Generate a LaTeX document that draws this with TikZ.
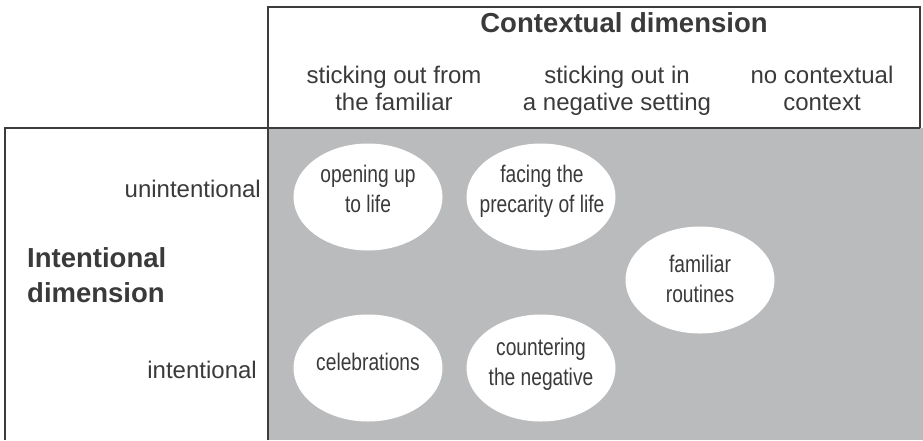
\documentclass[tikz,border=0pt]{standalone}
\usepackage{fontspec}
\setmainfont{Liberation Sans}
\newfontfamily\narrowfont{Liberation Sans}[FakeStretch=0.8]
\usetikzlibrary{shapes.geometric}
\definecolor{ink}{HTML}{3A3A3A}
\definecolor{rule}{HTML}{3C3C3C}
\definecolor{panel}{HTML}{BABBBD}
\tikzset{
  frame/.style={draw=rule, line width=1.6pt},
  head/.style={text=ink, align=center, font=\fontsize{24}{27}\selectfont, inner sep=0pt},
  title/.style={text=ink, font=\bfseries\fontsize{27.5}{35}\selectfont, inner sep=0pt},
  rowlab/.style={text=ink, font=\fontsize{24}{27}\selectfont, inner sep=0pt, anchor=base east},
  blob/.style={ellipse, fill=white, draw=none, minimum width=149pt, minimum height=107pt,
    inner sep=0pt},
  blobtext/.style={text=ink, align=center, anchor=base, inner sep=0pt,
    font=\narrowfont\fontsize{24}{29.5}\selectfont},
}
\begin{document}
\begin{tikzpicture}[x=1pt, y=-1pt]
\useasboundingbox (0,0) rectangle (923,440);
% grey field of the matrix
\fill[panel] (268,128) rectangle (923,440);
% frames
\draw[frame] (268,440) -- (268,7) -- (920,7) -- (920,128);
\draw[frame] (5,440) -- (5,128) -- (920,128);
% column header (base anchor sits on the last line)
\node[title, anchor=base] (ctx) at (624,32) {Contextual dimension};
\node[head, anchor=base] (c1) at (394,110) {sticking out from\\the familiar};
\node[head, anchor=base] (c2) at (617,110) {sticking out in\\a negative setting};
\node[head, anchor=base] (c3) at (822,110) {no contextual\\context};
% row header
\node[rowlab] (r1) at (261,197) {unintentional};
\node[rowlab] (r2) at (257,378) {intentional};
\node[title, anchor=base west, align=left] (intd) at (27,302) {Intentional\\dimension};
% categories: white ellipses
\node[blob] (open) at (368,197) {};
\node[blob] (face) at (541,197) {};
\node[blob] (rout) at (700,280) {};
\node[blob] (celb) at (368,368) {};
\node[blob] (cntr) at (541,368) {};
% category names, placed by the baseline of their last line
\node[blobtext] (opent) at (368,212) {opening up\\to life};
\node[blobtext] (facet) at (542,212) {facing the\\precarity of life};
\node[blobtext] (routt) at (700,302) {familiar\\routines};
\node[blobtext] (celbt) at (368,370) {celebrations};
\node[blobtext] (cntrt) at (541,385) {countering\\the negative};
\end{tikzpicture}
\end{document}
